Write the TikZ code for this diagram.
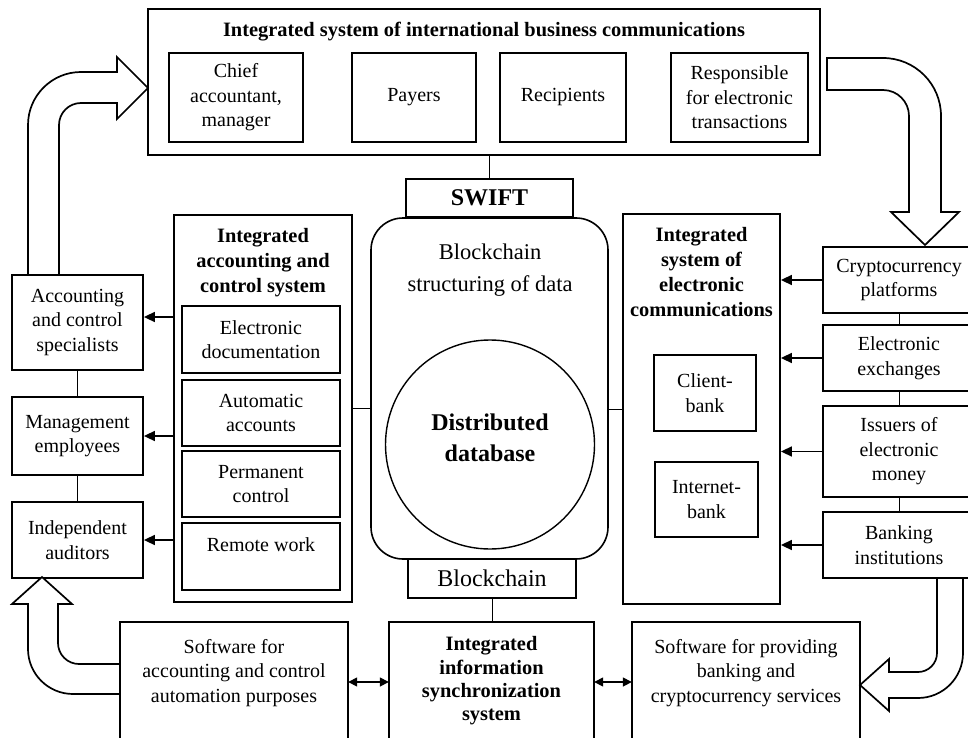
\documentclass[tikz,border=0pt]{standalone}
\usepackage{fontspec}
\setmainfont{Liberation Serif}
\usetikzlibrary{arrows.meta}
\newcommand\fsn{\fontsize{20}{24.5}\selectfont}
\newcommand\fsbt{\fontsize{20.4}{25}\selectfont\bfseries}
\newcommand\fsbig{\fontsize{24}{31}\selectfont}
\newcommand\fsmid{\fontsize{22.5}{32}\selectfont}
\begin{document}
\begin{tikzpicture}[x=1pt,y=-1pt,
  box/.style={draw, line width=1.8pt, inner sep=0pt, align=center, font=\fsn},
  open/.style={draw=none, inner sep=0pt, align=center, font=\fsn},
  txt/.style={inner sep=0pt, align=center},
  edge3/.style={line width=1.8pt},
  link/.style={line width=0.8pt},
  arr/.style={line width=1.6pt, -{Triangle[length=11pt,width=10pt]}},
  dbl/.style={line width=1.6pt, {Triangle[length=9pt,width=9pt]}-{Triangle[length=9pt,width=9pt]}},
  bigarrow/.style={draw, fill=white, line width=1.7pt, line join=miter}]
\useasboundingbox (0,0) rectangle (968,738);
\coordinate (bot) at (0,738);
\coordinate (redge) at (968,0);

% top system
\node[box, minimum width=672pt, minimum height=146pt] (top) at (484,82) {};
\node[txt, font=\fsbt] (toptitle) at (484,32) {Integrated system of international business communications};
\node[box, minimum width=134pt, minimum height=89pt] (chief) at (236,97.5) {Chief\\accountant,\\manager};
\node[box, minimum width=124pt, minimum height=89pt] (payers) at (414,97.5) {Payers};
\node[box, minimum width=126pt, minimum height=89pt] (recip) at (563,97.5) {Recipients};
\node[box, minimum width=137pt, minimum height=89pt] (resp) at (739.5,97.5) {Responsible\\for electronic\\transactions};

% centre
\node[box, font=\fsbig\bfseries, minimum width=167pt, minimum height=38pt] (swift) at (489.5,198) {SWIFT};
\node[draw, line width=1.6pt, rounded corners=32pt, minimum width=237pt, minimum height=341pt, inner sep=0pt] (round) at (489.5,388.5) {};
\node[txt, font=\fsmid] (bstruct) at (490,270) {Blockchain\\structuring of data};
\node[draw, circle, line width=1.4pt, minimum size=209pt, inner sep=0pt] (db) at (490,444.5) {};
\node[txt, font=\fsbig\bfseries] (dbtext) at (490,437.5) {Distributed\\database};
\node[box, font=\fsbig, minimum width=168pt, minimum height=39pt] (bchain) at (492,578.5) {Blockchain};

% left system
\node[box, minimum width=178pt, minimum height=387pt] (leftsys) at (263,408.5) {};
\node[txt, font=\fsbt] (lefttitle) at (263,263) {Integrated\\accounting and\\control system};
\node[box, minimum width=158pt, minimum height=67pt] (edoc) at (261,339.5) {Electronic\\documentation};
\node[box, minimum width=158pt, minimum height=66pt] (autoacc) at (261,413) {Automatic\\accounts};
\node[box, minimum width=158pt, minimum height=66pt] (perm) at (261,484) {Permanent\\control};
\node[box, minimum width=158pt, minimum height=67pt] (remote) at (261,556.5) {Remote work\\\mbox{}};

% left column
\node[box, minimum width=131pt, minimum height=95pt] (acs) at (77.5,322.5) {Accounting\\and control\\specialists};
\node[box, minimum width=131pt, minimum height=78pt] (mgmt) at (77.5,436) {Management\\employees};
\node[box, minimum width=131pt, minimum height=76pt] (aud) at (77.5,540) {Independent\\auditors};

% right system
\node[box, minimum width=157pt, minimum height=390pt] (rsys) at (701.5,409) {};
\node[txt, font=\fsbt] (righttitle) at (701.5,272.5) {Integrated\\system of\\electronic\\communications};
\node[box, minimum width=102pt, minimum height=76pt] (client) at (705,393) {Client-\\bank};
\node[box, minimum width=103pt, minimum height=75pt] (inet) at (706.5,499.5) {Internet-\\bank};

% right column (cut by the right edge)
\node[open, minimum width=152pt, minimum height=66pt] (crypto) at (899,280) {Cryptocurrency\\platforms};
\node[open, minimum width=152pt, minimum height=66pt] (exch) at (899,358) {Electronic\\exchanges};
\node[open, minimum width=152pt, minimum height=91pt] (issuers) at (899,451.5) {Issuers of\\electronic\\money};
\node[open, minimum width=152pt, minimum height=66pt] (banking) at (899,545) {Banking\\institutions};
\foreach \n in {crypto,exch,issuers,banking}
  \draw[edge3] (\n.north -| redge) -- (\n.north west) -- (\n.south west) -- (\n.south -| redge);

% bottom row (cut by the bottom edge)
\node[open, minimum width=228pt, minimum height=102pt] (sw1) at (234,673) {Software for\\accounting and control\\automation purposes};
\node[open, font=\fontsize{20.4}{23.3}\selectfont\bfseries, minimum width=205pt, minimum height=118pt] (sync) at (491.5,681) {Integrated\\information\\synchronization\\system};
\node[open, minimum width=228pt, minimum height=102pt] (sw2) at (746,673) {Software for providing\\banking and\\cryptocurrency services};
\foreach \n in {sw1,sync,sw2}
  \draw[edge3] (\n.west |- bot) -- (\n.north west) -- (\n.north east) -- (\n.east |- bot);

% thin links
\draw[link] (swift.north |- top.south) -- (swift.north);
\draw[link] (bchain.south) -- (bchain.south |- sync.north);
\draw[link] (leftsys.east) -- (leftsys.east -| round.west);
\draw[link] (rsys.west) -- (rsys.west -| round.east);
\draw[link] (acs.south) -- (mgmt.north);
\draw[link] (mgmt.south) -- (aud.north);
\draw[link] (crypto.south) -- (exch.north);
\draw[link] (exch.south) -- (issuers.north);
\draw[link] (issuers.south) -- (banking.north);

% arrows
\draw[arr] ([yshift=5.5pt]acs.east -| leftsys.west) -- ([yshift=5.5pt]acs.east);
\draw[arr] (mgmt.east -| leftsys.west) -- (mgmt.east);
\draw[arr] (aud.east -| leftsys.west) -- (aud.east);
\draw[arr] (crypto.west) -- (crypto.west -| rsys.east);
\draw[arr] (exch.west) -- (exch.west -| rsys.east);
\draw[arr] (issuers.west) -- (issuers.west -| rsys.east);
\draw[arr] (banking.west) -- (banking.west -| rsys.east);
\draw[dbl] ([yshift=-9pt]sw1.east) -- ([yshift=-9pt]sw1.east -| sync.west);
\draw[dbl] ([yshift=-1pt]sync.east) -- ([yshift=-1pt]sync.east -| sw2.west);

% big hollow arrows
\draw[bigarrow] (28,275) -- (28,125) arc[start angle=180,end angle=90,radius=53pt] -- (117,72) -- (117,57) -- (148,88) -- (117,119) -- (117,103) -- (81,103) arc[start angle=90,end angle=180,radius=22pt] -- (59,275) -- cycle;
\draw[bigarrow] (827,58) -- (883,58) arc[start angle=90,end angle=0,radius=58pt] -- (941,212) -- (959,212) -- (925,245) -- (891,212) -- (909,212) -- (909,116) arc[start angle=0,end angle=90,radius=26pt] -- (827,90) -- cycle;
\draw[bigarrow] (937,578) -- (937,653) arc[start angle=0,end angle=-90,radius=19pt] -- (889,672) -- (889,659) -- (860,685) -- (889,711) -- (889,698) -- (918,698) arc[start angle=-90,end angle=0,radius=45pt] -- (963,578) -- cycle;
\draw[bigarrow] (120,664) -- (79,664) arc[start angle=270,end angle=180,radius=21pt] -- (58,604) -- (72,604) -- (42,577) -- (12,604) -- (28,604) -- (28,649) arc[start angle=180,end angle=270,radius=45pt] -- (120,694) -- cycle;
\end{tikzpicture}
\end{document}
